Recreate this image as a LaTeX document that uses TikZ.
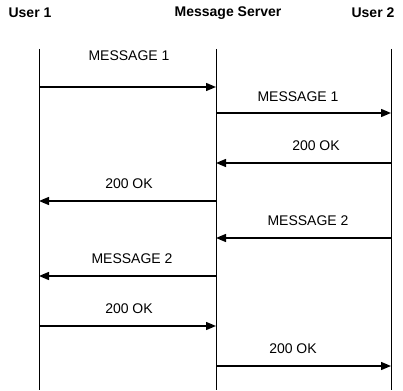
\documentclass[tikz,border=0pt]{standalone}
\usepackage{fontspec}
\setmainfont{Liberation Sans}
\usetikzlibrary{arrows.meta}
\begin{document}
\begin{tikzpicture}[x=1pt,y=-1pt,
  hdr/.style={font=\fontsize{14}{16}\selectfont\bfseries, inner sep=0pt},
  lbl/.style={font=\fontsize{14}{16}\selectfont, inner sep=0pt},
  life/.style={line width=1pt},
  msg/.style={line width=1.4pt, -{Triangle[length=10pt,width=8pt]}}]
\useasboundingbox (0,0) rectangle (403,390);
\node[hdr] (u1) at (30,13) {User 1};
\node[hdr] (ms) at (228,13) {Message Server};
\node[hdr] (u2) at (373,13) {User 2};
\coordinate (t1) at (39,49); \coordinate (b1) at (39,390);
\coordinate (t2) at (216,49); \coordinate (b2) at (216,390);
\coordinate (t3) at (391,49); \coordinate (b3) at (391,390);
\draw[life] (t1) -- (b1);
\draw[life] (t2) -- (b2);
\draw[life] (t3) -- (b3);
% message endpoints
\coordinate (m1a) at (39,87);  \coordinate (m1b) at (216,87);
\coordinate (m2a) at (216,113); \coordinate (m2b) at (391,113);
\coordinate (m3a) at (391,163); \coordinate (m3b) at (216,163);
\coordinate (m4a) at (216,201); \coordinate (m4b) at (39,201);
\coordinate (m5a) at (391,238); \coordinate (m5b) at (216,238);
\coordinate (m6a) at (216,276); \coordinate (m6b) at (39,276);
\coordinate (m7a) at (39,326); \coordinate (m7b) at (216,326);
\coordinate (m8a) at (216,366); \coordinate (m8b) at (391,366);
\draw[msg] (m1a) -- (m1b);
\draw[msg] (m2a) -- (m2b);
\draw[msg] (m3a) -- (m3b);
\draw[msg] (m4a) -- (m4b);
\draw[msg] (m5a) -- (m5b);
\draw[msg] (m6a) -- (m6b);
\draw[msg] (m7a) -- (m7b);
\draw[msg] (m8a) -- (m8b);
\node[lbl] (l1) at (129,56) {MESSAGE 1};
\node[lbl] (l2) at (298,97) {MESSAGE 1};
\node[lbl] (l3) at (316,146) {200 OK};
\node[lbl] (l4) at (129,184) {200 OK};
\node[lbl] (l5) at (308,221) {MESSAGE 2};
\node[lbl] (l6) at (132,259) {MESSAGE 2};
\node[lbl] (l7) at (129,309) {200 OK};
\node[lbl] (l8) at (293,349) {200 OK};
\end{tikzpicture}
\end{document}
